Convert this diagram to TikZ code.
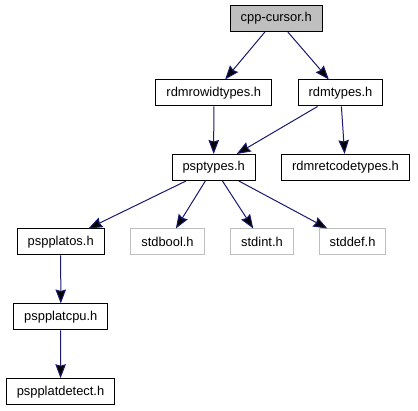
\documentclass[tikz,border=0pt]{standalone}
\usepackage{fontspec}
\setmainfont{Liberation Sans}
\usetikzlibrary{arrows.meta}
\definecolor{edgeblue}{RGB}{25,25,112}
\definecolor{boxgray}{RGB}{191,191,191}

\begin{document}
\begin{tikzpicture}[x=1pt, y=-1pt,
    file/.style={shape=rectangle, draw=black, line width=1pt, minimum height=26pt,
                 inner xsep=10.5pt, font=\fontsize{12.9}{15}\selectfont},
    sysfile/.style={file, draw=boxgray},
    inc/.style={draw=edgeblue, line width=1pt, -{Stealth[length=14pt, width=10.5pt, inset=1.5pt]}}]
    \useasboundingbox (0,0) rectangle (418,411);

    \node[file, fill=boxgray] (cursor) at (276.2,18.5) {cpp-cursor.h};
    \node[file] (rowid) at (213.8,93) {rdmrowidtypes.h};
    \node[file] (rdmtypes) at (340.5,93) {rdmtypes.h};
    \node[file] (psptypes) at (213.7,167.5) {psptypes.h};
    \node[file] (retcode) at (345.5,167.5) {rdmretcodetypes.h};
    \node[file] (platos) at (60.7,242) {pspplatos.h};
    \node[sysfile] (stdbool) at (167.5,242) {stdbool.h};
    \node[sysfile] (stdint) at (262,242) {stdint.h};
    \node[sysfile] (stddef) at (352.5,242) {stddef.h};
    \node[file] (platcpu) at (60.8,317) {pspplatcpu.h};
    \node[file] (platdetect) at (60.5,391.7) {pspplatdetect.h};

    \path[inc] (cursor) edge (rowid);
    \path[inc] (cursor) edge (rdmtypes);
    \path[inc] (rowid) edge (psptypes);
    \path[inc] (rdmtypes) edge (psptypes);
    \path[inc] (rdmtypes) edge (retcode);

    \path[inc] (psptypes) edge (platos);
    \path[inc] (psptypes) edge (stdbool);
    \path[inc] (psptypes) edge (stdint);
    \path[inc] (psptypes) edge (stddef);

    \path[inc] (platos) edge (platcpu);
    \path[inc] (platcpu) edge (platdetect);
\end{tikzpicture}
\end{document}
